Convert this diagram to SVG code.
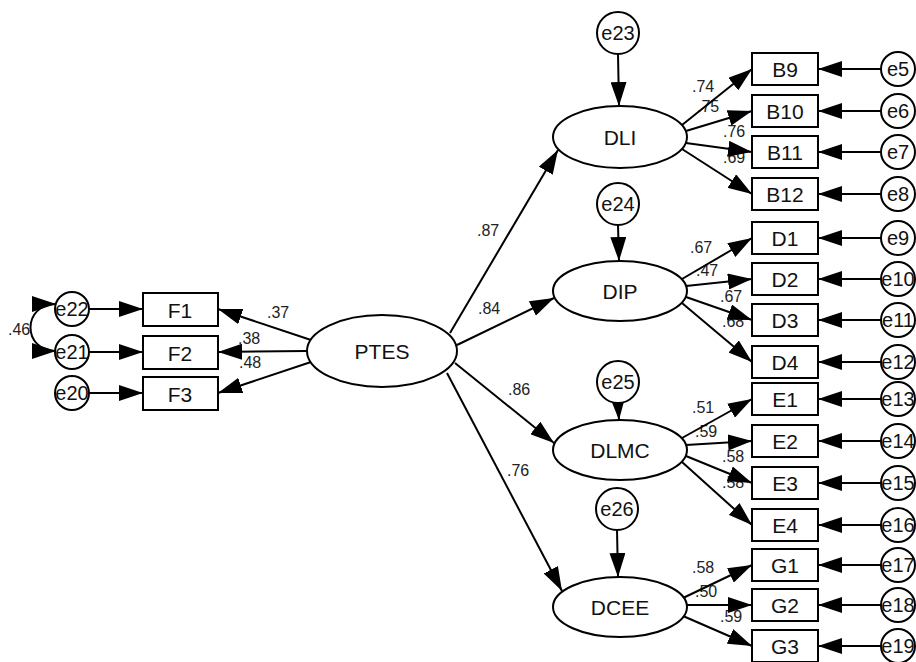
<svg xmlns="http://www.w3.org/2000/svg" width="916" height="662" viewBox="0 0 916 662">
  <style>
    .shape { fill: #fff; stroke: #000; stroke-width: 2; }
    .ln { fill: none; stroke: #000; stroke-width: 2; marker-end: url(#ah); }
    .cov { fill: none; stroke: #000; stroke-width: 2; marker-start: url(#ah); marker-end: url(#ah); }
    .lbl { font-family: "Liberation Sans", Arial, sans-serif; fill: #111; text-anchor: middle; dominant-baseline: central; }
    .lat { font-size: 21px; }
    .obs { font-size: 21px; }
    .err { font-size: 20px; }
    .coef { font-family: "Liberation Sans", Arial, sans-serif; font-size: 16px; fill: #222; }
  </style>
  <defs>
    <marker id="ah" viewBox="0 0 24 16" markerWidth="24" markerHeight="16" refX="24" refY="8" orient="auto-start-reverse" markerUnits="userSpaceOnUse">
      <path d="M0,0 L24,8 L0,16 z" fill="#000"/>
    </marker>
  </defs>

  <rect width="916" height="662" fill="#fff"/>

  <!-- path coefficients (drawn under the connectors) -->
  <g id="coefficients" class="coef">
    <text x="8" y="335">.46</text>
    <text x="267" y="318">.37</text>
    <text x="238" y="344">.38</text>
    <text x="239" y="368">.48</text>
    <text x="477" y="236">.87</text>
    <text x="478" y="314">.84</text>
    <text x="508" y="395">.86</text>
    <text x="507" y="476">.76</text>
    <text x="692" y="92">.74</text>
    <text x="697" y="112">.75</text>
    <text x="723" y="137">.76</text>
    <text x="723" y="163">.69</text>
    <text x="690" y="253">.67</text>
    <text x="696" y="276">.47</text>
    <text x="720" y="302">.67</text>
    <text x="722" y="327">.68</text>
    <text x="692" y="413">.51</text>
    <text x="695" y="437">.59</text>
    <text x="722" y="462">.58</text>
    <text x="722" y="488">.58</text>
    <text x="692" y="573">.58</text>
    <text x="695" y="597">.50</text>
    <text x="720" y="622">.59</text>
  </g>

  <!-- connectors -->
  <g id="connectors">
    <path class="cov" d="M56,304 C22,304 22,351 56,351"/>
    <line class="ln" x1="89" y1="309" x2="143" y2="309"/>
    <line class="ln" x1="89" y1="352" x2="143" y2="352"/>
    <line class="ln" x1="89" y1="393" x2="143" y2="393"/>
    <line class="ln" x1="311" y1="340" x2="218" y2="309"/>
    <line class="ln" x1="307" y1="351" x2="218" y2="352"/>
    <line class="ln" x1="311" y1="362" x2="218" y2="393"/>
    <line class="ln" x1="450" y1="333" x2="558" y2="150"/>
    <line class="ln" x1="457" y1="345" x2="554" y2="298"/>
    <line class="ln" x1="455" y1="363" x2="554" y2="443"/>
    <line class="ln" x1="447" y1="373" x2="562" y2="591"/>
    <line class="ln" x1="618" y1="54" x2="619" y2="106"/>
    <line class="ln" x1="618" y1="225" x2="619" y2="261"/>
    <line class="ln" x1="618" y1="403" x2="619" y2="420"/>
    <line class="ln" x1="617" y1="530" x2="618" y2="577"/>
    <line class="ln" x1="682" y1="125" x2="752" y2="69"/>
    <line class="ln" x1="686" y1="131" x2="752" y2="111"/>
    <line class="ln" x1="686" y1="143" x2="752" y2="152"/>
    <line class="ln" x1="682" y1="149" x2="752" y2="194"/>
    <line class="ln" x1="682" y1="279" x2="752" y2="238"/>
    <line class="ln" x1="686" y1="286" x2="752" y2="279"/>
    <line class="ln" x1="686" y1="297" x2="752" y2="320"/>
    <line class="ln" x1="682" y1="303" x2="752" y2="362"/>
    <line class="ln" x1="682" y1="438" x2="752" y2="399"/>
    <line class="ln" x1="686" y1="445" x2="752" y2="441"/>
    <line class="ln" x1="686" y1="456" x2="752" y2="483"/>
    <line class="ln" x1="682" y1="462" x2="752" y2="525"/>
    <line class="ln" x1="683" y1="598" x2="752" y2="565"/>
    <line class="ln" x1="687" y1="605" x2="752" y2="605"/>
    <line class="ln" x1="683" y1="616" x2="752" y2="646"/>
    <line class="ln" x1="881" y1="69" x2="818" y2="69"/>
    <line class="ln" x1="881" y1="111" x2="818" y2="111"/>
    <line class="ln" x1="881" y1="152" x2="818" y2="152"/>
    <line class="ln" x1="881" y1="194" x2="818" y2="194"/>
    <line class="ln" x1="881" y1="238" x2="818" y2="238"/>
    <line class="ln" x1="881" y1="279" x2="818" y2="279"/>
    <line class="ln" x1="881" y1="320" x2="818" y2="320"/>
    <line class="ln" x1="881" y1="362" x2="818" y2="362"/>
    <line class="ln" x1="881" y1="399" x2="818" y2="399"/>
    <line class="ln" x1="881" y1="441" x2="818" y2="441"/>
    <line class="ln" x1="881" y1="483" x2="818" y2="483"/>
    <line class="ln" x1="881" y1="525" x2="818" y2="525"/>
    <line class="ln" x1="881" y1="565" x2="818" y2="565"/>
    <line class="ln" x1="881" y1="605" x2="818" y2="605"/>
    <line class="ln" x1="881" y1="646" x2="818" y2="646"/>
  </g>

  <!-- latent variables -->
  <g id="PTES"><ellipse class="shape" cx="382" cy="351" rx="75" ry="36"/><text class="lbl lat" x="382" y="351">PTES</text></g>
  <g id="DLI"><ellipse class="shape" cx="620" cy="137" rx="67" ry="31"/><text class="lbl lat" x="620" y="137">DLI</text></g>
  <g id="DIP"><ellipse class="shape" cx="620" cy="291" rx="67" ry="30"/><text class="lbl lat" x="620" y="291">DIP</text></g>
  <g id="DLMC"><ellipse class="shape" cx="620" cy="450" rx="67" ry="30"/><text class="lbl lat" x="620" y="450">DLMC</text></g>
  <g id="DCEE"><ellipse class="shape" cx="620" cy="607" rx="67" ry="30"/><text class="lbl lat" x="620" y="607">DCEE</text></g>

  <!-- observed indicators -->
  <g id="F1"><rect class="shape" x="143" y="293" width="75" height="33"/><text class="lbl obs" x="180" y="310">F1</text></g>
  <g id="F2"><rect class="shape" x="143" y="336" width="75" height="33"/><text class="lbl obs" x="180" y="353">F2</text></g>
  <g id="F3"><rect class="shape" x="143" y="377" width="75" height="33"/><text class="lbl obs" x="180" y="394">F3</text></g>
  <g id="B9"><rect class="shape" x="752" y="53" width="66" height="32"/><text class="lbl obs" x="785" y="69">B9</text></g>
  <g id="B10"><rect class="shape" x="752" y="95" width="66" height="32"/><text class="lbl obs" x="785" y="111">B10</text></g>
  <g id="B11"><rect class="shape" x="752" y="136" width="66" height="32"/><text class="lbl obs" x="785" y="152">B11</text></g>
  <g id="B12"><rect class="shape" x="752" y="178" width="66" height="32"/><text class="lbl obs" x="785" y="194">B12</text></g>
  <g id="D1"><rect class="shape" x="752" y="222" width="66" height="32"/><text class="lbl obs" x="785" y="238">D1</text></g>
  <g id="D2"><rect class="shape" x="752" y="263" width="66" height="32"/><text class="lbl obs" x="785" y="279">D2</text></g>
  <g id="D3"><rect class="shape" x="752" y="304" width="66" height="32"/><text class="lbl obs" x="785" y="320">D3</text></g>
  <g id="D4"><rect class="shape" x="752" y="346" width="66" height="32"/><text class="lbl obs" x="785" y="362">D4</text></g>
  <g id="E1"><rect class="shape" x="752" y="383" width="66" height="32"/><text class="lbl obs" x="785" y="399">E1</text></g>
  <g id="E2"><rect class="shape" x="752" y="425" width="66" height="32"/><text class="lbl obs" x="785" y="441">E2</text></g>
  <g id="E3"><rect class="shape" x="752" y="467" width="66" height="32"/><text class="lbl obs" x="785" y="483">E3</text></g>
  <g id="E4"><rect class="shape" x="752" y="509" width="66" height="32"/><text class="lbl obs" x="785" y="525">E4</text></g>
  <g id="G1"><rect class="shape" x="752" y="549" width="66" height="32"/><text class="lbl obs" x="785" y="565">G1</text></g>
  <g id="G2"><rect class="shape" x="752" y="589" width="66" height="32"/><text class="lbl obs" x="785" y="605">G2</text></g>
  <g id="G3"><rect class="shape" x="752" y="630" width="66" height="32"/><text class="lbl obs" x="785" y="646">G3</text></g>

  <!-- error terms -->
  <g id="e22"><circle class="shape" cx="72" cy="309" r="17"/><text class="lbl err" x="72" y="309">e22</text></g>
  <g id="e21"><circle class="shape" cx="72" cy="352" r="17"/><text class="lbl err" x="72" y="352">e21</text></g>
  <g id="e20"><circle class="shape" cx="72" cy="393" r="17"/><text class="lbl err" x="72" y="393">e20</text></g>
  <g id="e23"><circle class="shape" cx="618" cy="33" r="21"/><text class="lbl err" x="618" y="33">e23</text></g>
  <g id="e24"><circle class="shape" cx="618" cy="204" r="21"/><text class="lbl err" x="618" y="204">e24</text></g>
  <g id="e25"><circle class="shape" cx="618" cy="382" r="21"/><text class="lbl err" x="618" y="382">e25</text></g>
  <g id="e26"><circle class="shape" cx="617" cy="509" r="21"/><text class="lbl err" x="617" y="509">e26</text></g>
  <g id="e5"><circle class="shape" cx="898" cy="69" r="17"/><text class="lbl err" x="898" y="69">e5</text></g>
  <g id="e6"><circle class="shape" cx="898" cy="111" r="17"/><text class="lbl err" x="898" y="111">e6</text></g>
  <g id="e7"><circle class="shape" cx="898" cy="152" r="17"/><text class="lbl err" x="898" y="152">e7</text></g>
  <g id="e8"><circle class="shape" cx="898" cy="194" r="17"/><text class="lbl err" x="898" y="194">e8</text></g>
  <g id="e9"><circle class="shape" cx="898" cy="238" r="17"/><text class="lbl err" x="898" y="238">e9</text></g>
  <g id="e10"><circle class="shape" cx="898" cy="279" r="17"/><text class="lbl err" x="898" y="279">e10</text></g>
  <g id="e11"><circle class="shape" cx="898" cy="320" r="17"/><text class="lbl err" x="898" y="320">e11</text></g>
  <g id="e12"><circle class="shape" cx="898" cy="362" r="17"/><text class="lbl err" x="898" y="362">e12</text></g>
  <g id="e13"><circle class="shape" cx="898" cy="399" r="17"/><text class="lbl err" x="898" y="399">e13</text></g>
  <g id="e14"><circle class="shape" cx="898" cy="441" r="17"/><text class="lbl err" x="898" y="441">e14</text></g>
  <g id="e15"><circle class="shape" cx="898" cy="483" r="17"/><text class="lbl err" x="898" y="483">e15</text></g>
  <g id="e16"><circle class="shape" cx="898" cy="525" r="17"/><text class="lbl err" x="898" y="525">e16</text></g>
  <g id="e17"><circle class="shape" cx="898" cy="565" r="17"/><text class="lbl err" x="898" y="565">e17</text></g>
  <g id="e18"><circle class="shape" cx="898" cy="605" r="17"/><text class="lbl err" x="898" y="605">e18</text></g>
  <g id="e19"><circle class="shape" cx="898" cy="646" r="17"/><text class="lbl err" x="898" y="646">e19</text></g>
</svg>
